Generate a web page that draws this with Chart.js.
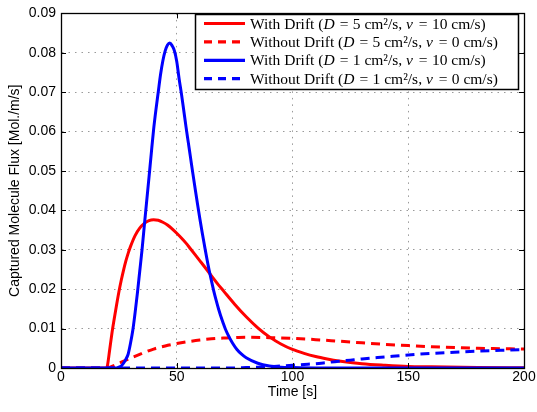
<!DOCTYPE html>
<html>
<head>
<meta charset="utf-8">
<script src="https://cdn.jsdelivr.net/npm/chart.js@4/dist/chart.umd.min.js"></script>
<style>
html,body{margin:0;padding:0;background:#fff;}
#wrap{width:537px;height:412px;position:relative;}
</style>
</head>
<body>
<div id="wrap"><canvas id="c" width="537" height="412"></canvas></div>
<script>
// ---- data ----
const xTicks = [0, 50, 100, 150, 200];
const yTicks = [0, 0.01, 0.02, 0.03, 0.04, 0.05, 0.06, 0.07, 0.08, 0.09];

const seriesLabels = [
  'With Drift (D = 5 cm²/s, v = 10 cm/s)',
  'Without Drift (D = 5 cm²/s, v = 0 cm/s)',
  'With Drift (D = 1 cm²/s, v = 10 cm/s)',
  'Without Drift (D = 1 cm²/s, v = 0 cm/s)'
];

const timeRedSolid = [0, 19.7, 20, 21, 22, 23, 24, 25, 26, 27, 28, 29, 30, 32, 34, 36, 38, 40, 42, 44, 46, 48, 50, 52, 54, 56, 58, 60, 62, 65, 68, 70, 75, 80, 85, 90, 95, 100, 105, 110, 115, 120, 130, 140, 150, 160, 180, 200];
const fluxRedSolid = [0, 0, 0.0004, 0.0045, 0.0088, 0.0125, 0.016, 0.0193, 0.0222, 0.0248, 0.0271, 0.0291, 0.0308, 0.0336, 0.0355, 0.0367, 0.0374, 0.0376, 0.0375, 0.0370, 0.0363, 0.0353, 0.0342, 0.0330, 0.0317, 0.0302, 0.0287, 0.0272, 0.0257, 0.0234, 0.0211, 0.0197, 0.0162, 0.0130, 0.0102, 0.0079, 0.0061, 0.0047, 0.0037, 0.0029, 0.0023, 0.0018, 0.0011, 0.0007, 0.0004, 0.0003, 0.0001, 0.00005];

const timeRedDashed = [0, 20, 22, 25, 30, 35, 40, 45, 50, 55, 60, 65, 70, 75, 80, 90, 100, 110, 120, 130, 140, 150, 160, 170, 180, 190, 200];
const fluxRedDashed = [0, 0, 0.0004, 0.0012, 0.0025, 0.0037, 0.0048, 0.0056, 0.0062, 0.0067, 0.0071, 0.0074, 0.0076, 0.0077, 0.0078, 0.0077, 0.0075, 0.0072, 0.0068, 0.0064, 0.006, 0.0057, 0.0054, 0.0052, 0.005, 0.0049, 0.0048];

const timeBlueSolid = [0, 24, 25, 26, 27, 28, 29, 30, 31, 32, 33, 34, 35, 36, 37, 38, 39, 40, 41, 42, 43, 44, 45, 46, 47, 48, 49, 50, 51, 52, 53, 54, 55, 56, 57, 58, 59, 60, 61, 62, 63, 64, 65, 66, 67, 68, 69, 70, 71, 72, 74, 76, 78, 80, 85, 90, 95, 100, 110, 200];
const fluxBlueSolid = [0, 0, 0.0002, 0.0005, 0.0012, 0.0022, 0.0035, 0.0062, 0.0095, 0.014, 0.019, 0.0245, 0.030, 0.0362, 0.0423, 0.0483, 0.0545, 0.0605, 0.0655, 0.0700, 0.0745, 0.0780, 0.0805, 0.0820, 0.0825, 0.0818, 0.0805, 0.0778, 0.0735, 0.0697, 0.0655, 0.0612, 0.0572, 0.0532, 0.0492, 0.0453, 0.0415, 0.0378, 0.0343, 0.0310, 0.0278, 0.0248, 0.0221, 0.0195, 0.0172, 0.0151, 0.0132, 0.0115, 0.0099, 0.0086, 0.0064, 0.0047, 0.0035, 0.0026, 0.0012, 0.0005, 0.0002, 0.0001, 0, 0];

const timeBlueDashed = [0, 75, 80, 85, 90, 95, 100, 105, 110, 115, 120, 125, 130, 140, 150, 160, 170, 180, 190, 200];
const fluxBlueDashed = [0, 0, 0.0001, 0.0002, 0.0003, 0.0005, 0.0007, 0.0009, 0.0011, 0.0014, 0.0017, 0.002, 0.0023, 0.0028, 0.0033, 0.0037, 0.004, 0.0043, 0.0045, 0.0047];

// ---- build datasets ----
function pts(ts, vs) { return ts.map((t, i) => ({ x: t, y: vs[i] })); }
const DASH = [9, 6];
const common = { borderWidth: 3, pointRadius: 0, fill: false, cubicInterpolationMode: 'monotone' };
const datasets = [
  Object.assign({ label: seriesLabels[0], data: pts(timeRedSolid, fluxRedSolid), borderColor: '#ff0000', borderDash: [], order: 3 }, common),
  Object.assign({ label: seriesLabels[1], data: pts(timeRedDashed, fluxRedDashed), borderColor: '#ff0000', borderDash: DASH, order: 2 }, common),
  Object.assign({ label: seriesLabels[2], data: pts(timeBlueSolid, fluxBlueSolid), borderColor: '#0000ff', borderDash: [], order: 1 }, common),
  Object.assign({ label: seriesLabels[3], data: pts(timeBlueDashed, fluxBlueDashed), borderColor: '#0000ff', borderDash: DASH, order: 0 }, common)
];

const SANS = '"Liberation Sans", Arial, Helvetica, sans-serif';

// box + inward ticks (MATLAB style)
const boxPlugin = {
  id: 'box',
  afterDatasetsDraw(chart) {
    const { ctx, chartArea: a, scales } = chart;
    ctx.save();
    ctx.strokeStyle = '#000';
    ctx.lineWidth = 1;
    ctx.setLineDash([]);
    ctx.beginPath();
    const L = 5;
    xTicks.forEach(v => {
      const px = Math.round(scales.x.getPixelForValue(v)) + 0.5;
      ctx.moveTo(px, a.bottom); ctx.lineTo(px, a.bottom - L);
      ctx.moveTo(px, a.top); ctx.lineTo(px, a.top + L);
    });
    yTicks.forEach(v => {
      const py = Math.round(scales.y.getPixelForValue(v)) + 0.5;
      ctx.moveTo(a.left, py); ctx.lineTo(a.left + L, py);
      ctx.moveTo(a.right, py); ctx.lineTo(a.right - L, py);
    });
    ctx.stroke();
    ctx.lineWidth = 1.3;
    ctx.strokeRect(Math.round(a.left) + 0.5, Math.round(a.top) + 0.5, Math.round(a.right - a.left), Math.round(a.bottom - a.top));
    ctx.restore();
  }
};

// legend with italic math symbols
const legendPlugin = {
  id: 'mlegend',
  afterDraw(chart) {
    const { ctx } = chart;
    const box = { left: 195, top: 14, right: 518, bottom: 89 };
    const rowH = 18.4, firstY = 23.5;
    ctx.save();
    ctx.fillStyle = '#fff';
    ctx.fillRect(box.left, box.top, box.right - box.left, box.bottom - box.top);
    ctx.strokeStyle = '#000';
    ctx.lineWidth = 1.5;
    ctx.strokeRect(box.left + 0.5, box.top + 0.5, box.right - box.left, box.bottom - box.top);
    const size = 15.5;
    const fam = '"Liberation Serif", "DejaVu Serif", serif';
    chart.data.datasets.forEach((ds, i) => {
      const y = firstY + i * rowH;
      ctx.strokeStyle = ds.borderColor;
      ctx.lineWidth = 3.2;
      ctx.setLineDash(ds.borderDash && ds.borderDash.length ? [8, 6] : []);
      ctx.beginPath();
      ctx.moveTo(204, y); ctx.lineTo(245, y);
      ctx.stroke();
      ctx.setLineDash([]);
      ctx.fillStyle = '#000';
      ctx.textBaseline = 'middle';
      let x = 250;
      const parts = ds.label.split(/(\bD\b|\bv\b|=)/);
      parts.forEach(p => {
        if (!p) return;
        const italic = (p === 'D' || p === 'v');
        ctx.font = (italic ? 'italic ' : '') + size + 'px ' + fam;
        if (p === '=') x += 1.2;
        ctx.fillText(p, x, y + 1);
        x += ctx.measureText(p).width;
        if (p === '=') x += 0.5;
        if (p === 'v') x += 0.8;
      });
    });
    ctx.restore();
  }
};

new Chart(document.getElementById('c'), {
  type: 'line',
  data: { datasets },
  plugins: [boxPlugin, legendPlugin],
  options: {
    responsive: false,
    animation: false,
    events: [],
    layout: { padding: { top: 8, right: 13, left: 0, bottom: 0 } },
    plugins: { legend: { display: false }, tooltip: { enabled: false } },
    scales: {
      x: {
        type: 'linear', min: 0, max: 200,
        afterBuildTicks: s => { s.ticks = xTicks.map(v => ({ value: v })); },
        afterFit: s => { s.height = 44; },
        ticks: { color: '#000', font: { family: SANS, size: 14 }, padding: 1, maxRotation: 0 },
        grid: { color: '#9a9a9a', lineWidth: 1, drawTicks: false, tickLength: 0 },
        border: { display: true, color: '#000', width: 1, dash: [1.5, 5] },
        title: { display: true, text: 'Time [s]', color: '#000', font: { family: SANS, size: 14 }, padding: { top: 0, bottom: 11.5 } }
      },
      y: {
        type: 'linear', min: 0, max: 0.09,
        afterBuildTicks: s => { s.ticks = yTicks.map(v => ({ value: v })); },
        afterFit: s => { s.width = 61; },
        ticks: { color: '#000', font: { family: SANS, size: 14 }, padding: 5,
          callback: v => v === 0 ? '0' : v.toFixed(2) },
        grid: { color: '#9a9a9a', lineWidth: 1, drawTicks: false, tickLength: 0 },
        border: { display: true, color: '#000', width: 1, dash: [1.5, 5] },
        title: { display: true, text: 'Captured Molecule Flux [Mol./m/s]', color: '#000', font: { family: SANS, size: 14 }, padding: { top: 6.5, bottom: 0 } }
      }
    }
  }
});
</script>
</body>
</html>
